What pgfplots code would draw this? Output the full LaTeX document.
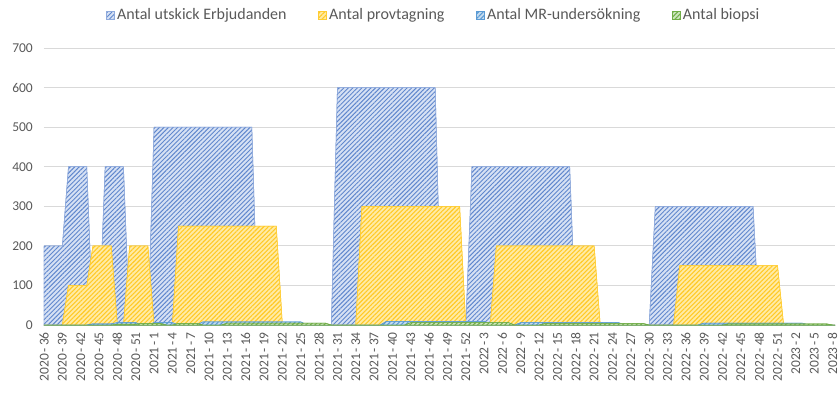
\documentclass[border=0pt]{standalone}
\usepackage{pgfplots}
\pgfplotsset{compat=1.18}
\usepackage{fontspec}
\setmainfont{Carlito}
\usetikzlibrary{patterns.meta}
\definecolor{txtgray}{HTML}{595959}
\definecolor{gridgray}{HTML}{D9D9D9}
\definecolor{erbdark}{HTML}{4472C4}
\definecolor{erblight}{HTML}{D6E1F4}
\definecolor{provdark}{HTML}{FFC000}
\definecolor{provlight}{HTML}{FFEBA6}
\definecolor{mrdark}{HTML}{5B9BD5}
\definecolor{mrlight}{HTML}{C5DCF0}
\definecolor{biodark}{HTML}{70AD47}
\definecolor{biolight}{HTML}{CDE5BE}
\newcommand{\wk}[2]{#1\kern0.15em-\kern0.15em#2}
\begin{document}
\begin{tikzpicture}
\path[use as bounding box] (0,0) rectangle (840pt,400pt);
\begin{axis}[
  at={(44pt,75pt)}, anchor=south west,
  width=791pt, height=277pt, scale only axis,
  xmin=0, xmax=129.4, ymin=0, ymax=700,
  ytick={0,100,...,700},
  xtick={0,3,...,129},
  xticklabels={\wk{2020}{36},\wk{2020}{39},\wk{2020}{42},\wk{2020}{45},\wk{2020}{48},\wk{2020}{51},
    \wk{2021}{1},\wk{2021}{4},\wk{2021}{7},\wk{2021}{10},\wk{2021}{13},\wk{2021}{16},\wk{2021}{19},\wk{2021}{22},\wk{2021}{25},\wk{2021}{28},\wk{2021}{31},\wk{2021}{34},\wk{2021}{37},\wk{2021}{40},\wk{2021}{43},\wk{2021}{46},\wk{2021}{49},\wk{2021}{52},
    \wk{2022}{3},\wk{2022}{6},\wk{2022}{9},\wk{2022}{12},\wk{2022}{15},\wk{2022}{18},\wk{2022}{21},\wk{2022}{24},\wk{2022}{27},\wk{2022}{30},\wk{2022}{33},\wk{2022}{36},\wk{2022}{39},\wk{2022}{42},\wk{2022}{45},\wk{2022}{48},\wk{2022}{51},
    \wk{2023}{2},\wk{2023}{5},\wk{2023}{8}},
  /pgf/number format/assume math mode=true,
  axis lines*=left,
  y axis line style={draw=none},
  x axis line style={draw=gridgray, line width=0.9pt},
  major tick length=0pt,
  ymajorgrids, grid style={draw=gridgray, line width=0.9pt},
  tick label style={font=\fontsize{13.5}{16}\selectfont, text=txtgray},
  yticklabel style={anchor=east, inner sep=0pt, xshift=-11pt},
  xticklabel style={yshift=-7pt, rotate=90, anchor=east, inner sep=0pt},
  legend columns=4,
  legend style={draw=none, fill=none, at={(0.493,1.119)}, anchor=center,
    font=\fontsize{16}{19}\selectfont, text=txtgray,
    /tikz/every even column/.append style={column sep=29pt},
    nodes={inner sep=2.5pt}},
  legend cell align=left,
  legend image code/.code={\path[#1] (0pt,-4pt) rectangle (8pt,4pt);},
]
\addplot[draw=erbdark!60, line width=0.5pt, fill=erblight,
  postaction={pattern={Lines[angle=45,distance=3.2pt,line width=0.95pt]}, pattern color=erbdark!85}]
  coordinates {(0,200)(3,200)(4,400)(7,400)(8,0)(9,0)(10,400)(13,400)(14,0)(17,0)(18,500)(34,500)(35,0)(47,0)(48,600)(64,600)(65,0)(69,0)(70,400)(86,400)(87,0)(99,0)(100,300)(116,300)(117,0)(129.4,0)} \closedcycle;
\addlegendentry{Antal utskick Erbjudanden}
\addplot[draw=provdark!80, line width=0.5pt, fill=provlight,
  postaction={pattern={Lines[angle=45,distance=3.2pt,line width=1.1pt]}, pattern color=provdark!85}]
  coordinates {(0,0)(3,0)(4,100)(7,100)(8,200)(11,200)(12,0)(13,0)(14,200)(17,200)(18,0)(21,0)(22,250)(38,250)(39,0)(51,0)(52,300)(68,300)(69,0)(73,0)(74,200)(90,200)(91,0)(103,0)(104,150)(120,150)(121,0)(129.4,0)} \closedcycle;
\addlegendentry{Antal provtagning}
\addplot[draw=mrdark, line width=0.5pt, fill=mrlight,
  postaction={pattern={Lines[angle=45,distance=3.2pt,line width=1.1pt]}, pattern color=mrdark}]
  coordinates {(0,0)(7,0)(8,3)(11,3)(12,6)(15,6)(16,0)(17,0)(18,6)(21,6)(22,0)(25,0)(26,8)(42,8)(43,0)(55,0)(56,9)(72,9)(73,0)(77,0)(78,6)(94,6)(95,0)(107,0)(108,5)(124,5)(125,0)(129.4,0)} \closedcycle;
\addlegendentry{Antal MR-undersökning}
\addplot[draw=biodark, line width=0.5pt, fill=biolight,
  postaction={pattern={Lines[angle=45,distance=3.2pt,line width=1.1pt]}, pattern color=biodark}]
  coordinates {(0,0)(11,0)(12,2)(15,2)(16,4)(19,4)(20,0)(21,0)(22,4)(25,4)(26,0)(29,0)(30,5)(46,5)(47,0)(59,0)(60,6)(76,6)(77,0)(81,0)(82,4)(98,4)(99,0)(111,0)(112,3)(128,3)(129,0)(129.4,0)} \closedcycle;
\addlegendentry{Antal biopsi}
\end{axis}
\end{tikzpicture}
\end{document}
